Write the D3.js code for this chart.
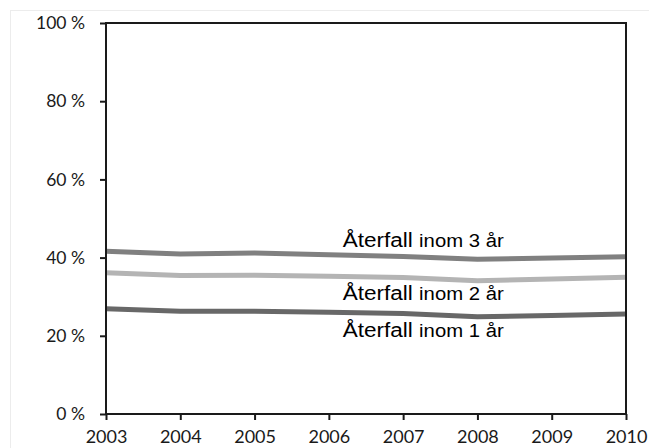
<!DOCTYPE html>
<html>
<head>
<meta charset="utf-8">
<script src="https://cdn.jsdelivr.net/npm/d3@7"></script>
<style>
  body { margin: 0; background: #fff; }
  svg { display: block; }
</style>
</head>
<body>
<div class="container"></div>
<script>
const WIDTH = 649;
const HEIGHT = 448;
const LEFT = 106, RIGHT = 626, TOP = 23, BOTTOM = 414;

const years = [2003, 2004, 2005, 2006, 2007, 2008, 2009, 2010];
const yTicks = [0, 20, 40, 60, 80, 100];

const inom1 = [26.9, 26.3, 26.3, 26.0, 25.7, 24.9, 25.2, 25.6];
const inom2 = [36.1, 35.4, 35.5, 35.2, 34.9, 34.1, 34.5, 35.0];
const inom3 = [41.6, 40.9, 41.2, 40.7, 40.3, 39.6, 39.9, 40.2];

const seriesNames = ["inom 3 år", "inom 2 år", "inom 1 år"];
const seriesValues = [inom3, inom2, inom1];
const seriesColors = ["#808080", "#b4b4b4", "#686868"];
// label anchor (year, percent) for baseline
const labelYear = [2007.27, 2007.27, 2007.27];
const labelPct = [42.7, 29.2, 19.7];

var xScale = d3.scaleLinear().domain([2003, 2010]).range([LEFT, RIGHT]);
var yScale = d3.scaleLinear().domain([0, 100]).range([BOTTOM, TOP]);

var svg = d3.select('.container').append('svg')
    .attr('width', WIDTH)
    .attr('height', HEIGHT);

// faint outer frame
svg.append('rect')
    .attr('x', 10.5).attr('y', 10.5)
    .attr('width', 660).attr('height', 460)
    .attr('fill', 'none')
    .attr('stroke', '#ececec');

var line = d3.line()
    .x(function(d, i){ return xScale(years[i]); })
    .y(function(d){ return yScale(d); });

seriesValues.forEach(function(vals, k){
    svg.append('path')
        .datum(vals)
        .attr('d', line)
        .attr('fill', 'none')
        .attr('stroke', seriesColors[k])
        .attr('stroke-width', 5);
});

// plot frame
svg.append('rect')
    .attr('x', LEFT).attr('y', TOP)
    .attr('width', RIGHT - LEFT).attr('height', BOTTOM - TOP)
    .attr('fill', 'none')
    .attr('stroke', '#1a1a1a')
    .attr('stroke-width', 2);

var yAxis = d3.axisLeft(yScale)
    .tickValues(yTicks)
    .tickSize(6)
    .tickPadding(15)
    .tickFormat(function(d){ return d + ' %'; });

var xAxis = d3.axisBottom(xScale)
    .tickValues(years)
    .tickSize(6)
    .tickPadding(10)
    .tickFormat(d3.format('d'));

var gy = svg.append('g').attr('transform', 'translate(' + LEFT + ',0)').call(yAxis);
var gx = svg.append('g').attr('transform', 'translate(0,' + BOTTOM + ')').call(xAxis);

[gx, gy].forEach(function(g){
    g.select('.domain').remove();
    g.selectAll('line').attr('stroke', '#1a1a1a').attr('stroke-width', 2);
    g.selectAll('text')
        .attr('fill', '#1a1a1a')
        .style('font-family', 'Lato, "Open Sans", sans-serif');
});
gy.selectAll('text').style('font-size', '17.5px');
gx.selectAll('text').style('font-size', '18px');

seriesNames.forEach(function(name, k){
    var t = svg.append('text')
        .attr('x', xScale(labelYear[k]))
        .attr('y', yScale(labelPct[k]))
        .attr('text-anchor', 'middle')
        .attr('textLength', 161)
        .attr('lengthAdjust', 'spacingAndGlyphs')
        .attr('fill', '#000')
        .style('font-family', '"Liberation Sans", Arial, sans-serif');
    t.append('tspan').style('font-size', '20px').text('Återfall ');
    t.append('tspan').style('font-size', '18px').text(name);
});
</script>
</body>
</html>
